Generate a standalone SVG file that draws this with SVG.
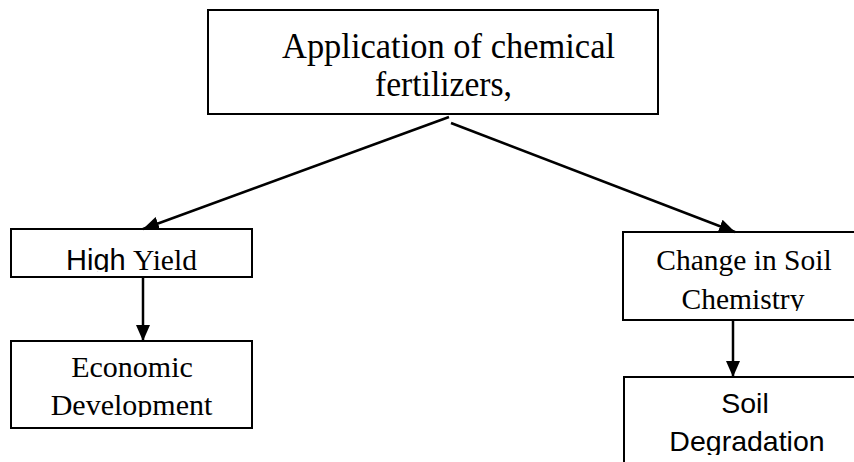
<svg xmlns="http://www.w3.org/2000/svg" width="854" height="462" viewBox="0 0 854 462">
<style>
.box{fill:#fff;stroke:#000;stroke-width:2}
.serif{font-family:"Liberation Serif","Times New Roman",serif;fill:#000}
.sans{font-family:"Liberation Sans",Arial,sans-serif;fill:#000}
.conn{stroke:#000;stroke-width:2.5;fill:none}
</style>
<defs>
<marker id="ah" markerUnits="userSpaceOnUse" markerWidth="17" markerHeight="15" refX="16" refY="7" orient="auto">
<path d="M0,0 L16,7 L0,14 z" fill="#000"/>
</marker>
<clipPath id="c-hy"><rect x="12" y="230" width="239" height="42"/></clipPath>
<clipPath id="c-ed"><rect x="12" y="342" width="239" height="75"/></clipPath>
<clipPath id="c-cs"><rect x="624" y="233" width="230" height="78"/></clipPath>
<clipPath id="c-sd"><rect x="625" y="378" width="229" height="77"/></clipPath>
</defs>
<rect width="854" height="462" fill="#fff"/>
<g id="n-top">
<rect class="box" x="208" y="10" width="450" height="104"/>
<text class="serif" font-size="36" text-anchor="middle"><tspan x="448.5" y="58" textLength="333" lengthAdjust="spacingAndGlyphs">Application of chemical</tspan><tspan x="443.5" y="96" textLength="137" lengthAdjust="spacingAndGlyphs">fertilizers,</tspan></text>
</g>
<g id="n-highyield">
<rect class="box" x="11" y="229" width="241" height="48"/>
<text clip-path="url(#c-hy)" y="270" font-size="29"><tspan class="sans" x="66">High</tspan><tspan class="serif" font-size="29.5" x="133">Yield</tspan></text>
</g>
<g id="n-econ">
<rect class="box" x="11" y="341" width="241" height="87"/>
<text class="serif" clip-path="url(#c-ed)" font-size="30" text-anchor="middle"><tspan x="132" y="377">Economic</tspan><tspan x="131.5" y="415">Development</tspan></text>
</g>
<g id="n-change">
<rect class="box" x="623" y="232" width="240" height="88"/>
<text class="serif" clip-path="url(#c-cs)" font-size="29.5" text-anchor="middle"><tspan x="744" y="270">Change in Soil</tspan><tspan x="743" y="309">Chemistry</tspan></text>
</g>
<g id="n-degradation">
<rect class="box" x="624" y="377" width="240" height="100"/>
<text class="sans" clip-path="url(#c-sd)" font-size="28.5" text-anchor="middle"><tspan x="745" y="413">Soil</tspan><tspan x="747" y="451">Degradation</tspan></text>
</g>
<g id="connectors">
<line class="conn" x1="449" y1="117" x2="143" y2="229" marker-end="url(#ah)"/>
<line class="conn" x1="451" y1="123" x2="735" y2="232" marker-end="url(#ah)"/>
<line class="conn" x1="143" y1="277" x2="143" y2="341" marker-end="url(#ah)"/>
<line class="conn" x1="733" y1="320" x2="733" y2="377" marker-end="url(#ah)"/>
</g>
</svg>
